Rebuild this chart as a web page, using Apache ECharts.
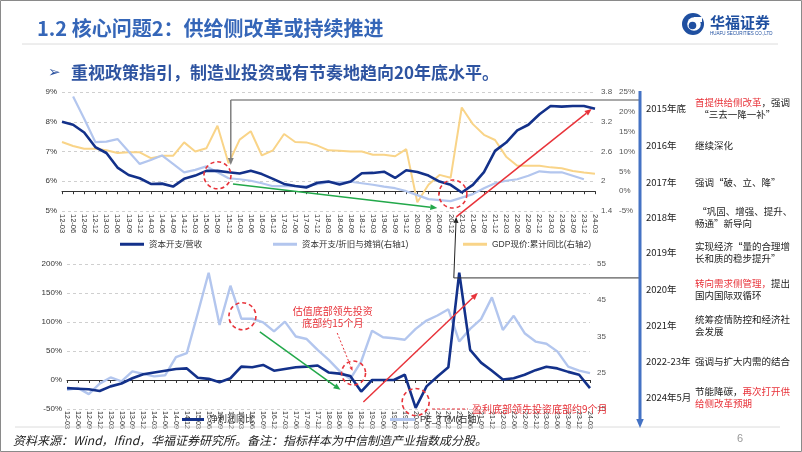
<!DOCTYPE html>
<html><head><meta charset="utf-8">
<script src="https://cdn.jsdelivr.net/npm/echarts@6/dist/echarts.min.js"></script>
<style>html,body{margin:0;padding:0;background:#fff}#c{width:802px;height:452px}</style>
</head><body><div id="c"></div>
<script>
const categories = ['12-03','12-06','12-09','12-12','13-03','13-06','13-09','13-12','14-03','14-06','14-09','14-12','15-03','15-06','15-09','15-12','16-03','16-06','16-09','16-12','17-03','17-06','17-09','17-12','18-03','18-06','18-09','18-12','19-03','19-06','19-09','19-12','20-03','20-06','20-09','20-12','21-03','21-06','21-09','21-12','22-03','22-06','22-09','22-12','23-03','23-06','23-09','23-12','24-03'];
const capexRevenue = [8.0,7.9,7.64,7.15,6.95,6.46,6.21,6.1,5.91,5.92,5.82,6.08,6.19,6.35,6.35,6.3,6.26,6.35,6.24,6.08,5.91,5.84,5.79,5.95,5.99,5.89,5.99,6.27,6.28,6.32,6.11,6.37,6.31,6.19,5.99,5.88,5.62,5.88,6.31,7.02,7.3,7.71,7.9,8.25,8.53,8.51,8.53,8.53,8.44];
const capexDepreciation = [null,3.71,3.26,2.79,2.80,2.85,2.60,2.35,2.43,2.52,2.35,2.18,2.23,2.30,2.18,2.06,2.04,2.01,1.96,1.9,1.9,1.9,1.9,1.94,1.98,1.98,1.99,1.96,1.93,1.89,1.86,1.8,1.72,1.64,1.62,1.6,1.67,1.74,1.86,1.96,2.01,2.04,2.11,2.2,2.18,2.18,2.11,2.04,null];
const gdpNominal = [12.4,11.4,10.7,10.7,10.3,9.6,9.8,9.8,8.3,8.9,8.9,12.3,10.0,10.8,16.5,7.05,13.0,15.1,9.0,10.3,14.4,12.4,12.3,11.5,10.3,10.2,10.0,10.0,9.2,9.2,8.8,10.6,-2.8,1.6,4.1,3.4,21.1,16.9,14.2,12.9,8.7,6.4,6.4,6.4,6.0,5.8,5.1,4.7,4.4];
const profitYoY = [-14,-15,-16,-19,-11,-6,3,10,13,16,19,20,4,2,-4,3,23,22,26,16,19,22,23,25,13,11,7,-20,0,0,0,9,-48,-11,6,22,185,52,30,16,1,3,9,17,23,20,14,9,-14];
const peTTM = [20.3,20.8,19.1,22,23.7,22.6,25.4,24.7,24,24.3,29.3,30.4,41.4,52.6,38.2,49,39.9,39.9,38.9,36.4,39.1,35,34.3,31.3,28.6,25.5,23.3,28.1,36.6,34.8,34.5,34.1,37.1,39.4,40.8,42.5,33.6,37.1,39.8,45.8,36.8,40.7,35.9,33.6,33,30.9,26.7,25.6,24.9];
const timelineYears = ['2015年底','2016年','2017年','2018年','2019年','2020年','2021年','2022-23年','2024年5月'];
const timelineText = [
  ['{r|首提供给侧改革}，强调','  “三去一降一补”'],
  ['继续深化'],
  ['强调“破、立、降”'],
  [' “巩固、增强、提升、','畅通”新导向'],
  ['实现经济“量的合理增','长和质的稳步提升”'],
  ['{r|转向需求侧管理，}提出','国内国际双循环'],
  ['统筹疫情防控和经济社','会发展'],
  ['强调与扩大内需的结合'],
  ['节能降碳，{r|再次打开供}','{r|给侧改革预期}']
];
const timelineY = [108,145,182,217,252,289,325,361,397];

const DARK='#13318a', LIGHT='#b3c6ee', YEL='#f9d488', RED='#e8333a';
const FONT="'Liberation Sans','Noto Sans CJK SC',sans-serif";
const chart = echarts.init(document.getElementById('c'));
const axLbl = {fontSize:8, color:'#333', fontFamily:FONT};
const xCommon = {type:'category', data:categories, boundaryGap:false,
  axisLine:{lineStyle:{color:'#333',width:1}}, axisTick:{length:3,lineStyle:{color:'#333'}},
  axisLabel:{rotate:-90, interval:0, fontSize:7.5, color:'#333', margin:3, fontFamily:FONT}};
const dashSplit = {show:true, lineStyle:{type:[3,3], color:'#cfcfcf'}};
const legBase = {icon:'rect',itemHeight:3,padding:0,itemGap:4,textStyle:{fontSize:8.5,color:'#333'}};

chart.setOption({
  animation:false,
  textStyle:{fontFamily:FONT},
  grid:[{left:62,right:207,top:92,height:119},{left:67,right:212,top:264,height:145}],
  xAxis:[Object.assign({gridIndex:0},xCommon),
         Object.assign({gridIndex:1},xCommon,{axisLine:{onZero:true,lineStyle:{color:'#333'}},
           axisLabel:{rotate:-90, interval:0, fontSize:7, color:'#333', margin:2, fontFamily:FONT}})],
  yAxis:[
    {gridIndex:0,type:'value',min:5,max:9,interval:1,axisLabel:Object.assign({formatter:'{value}%',margin:5},axLbl),splitLine:dashSplit,axisLine:{show:false},axisTick:{show:false}},
    {gridIndex:0,type:'value',position:'right',min:1.4,max:3.8,interval:0.6,axisLabel:Object.assign({formatter:v=>String(+v.toFixed(1)),margin:6},axLbl,{color:'#555'}),splitLine:{show:false},axisLine:{show:false},axisTick:{show:false}},
    {gridIndex:0,type:'value',position:'right',offset:18,min:-5,max:25,interval:5,axisLabel:Object.assign({formatter:'{value}%',margin:6},axLbl,{color:'#555'}),splitLine:{show:false},axisLine:{show:false},axisTick:{show:false}},
    {gridIndex:1,type:'value',min:-50,max:200,interval:50,axisLabel:Object.assign({formatter:'{value}%',margin:5},axLbl),splitLine:dashSplit,axisLine:{show:false},axisTick:{show:false}},
    {gridIndex:1,type:'value',position:'right',min:15,max:55,interval:10,axisLabel:Object.assign({margin:7},axLbl,{color:'#555'}),splitLine:{show:false},axisLine:{show:false},axisTick:{show:false}}
  ],
  legend:[
    Object.assign({data:['资本开支/营收'],left:120,top:240,itemWidth:24},legBase),
    Object.assign({data:['资本开支/折旧与摊销(右轴1)'],left:273,top:240,itemWidth:24},legBase),
    Object.assign({data:['GDP现价:累计同比(右轴2)'],left:463,top:240,itemWidth:24},legBase),
    Object.assign({data:['净利润同比'],left:182,top:415,itemWidth:22},legBase,{textStyle:{fontSize:9,color:'#333'}}),
    Object.assign({data:['PE_TTM(右轴)'],left:390,top:415,itemWidth:25},legBase,{textStyle:{fontSize:9,color:'#333'}})
  ],
  series:[
    {name:'资本开支/折旧与摊销(右轴1)',type:'line',xAxisIndex:0,yAxisIndex:1,data:capexDepreciation,symbol:'none',lineStyle:{color:LIGHT,width:2.2},itemStyle:{color:LIGHT},z:2},
    {name:'GDP现价:累计同比(右轴2)',type:'line',xAxisIndex:0,yAxisIndex:2,data:gdpNominal,symbol:'none',lineStyle:{color:YEL,width:2},itemStyle:{color:YEL},z:1},
    {name:'资本开支/营收',type:'line',xAxisIndex:0,yAxisIndex:0,data:capexRevenue,symbol:'none',lineStyle:{color:DARK,width:2.6},itemStyle:{color:DARK},z:3},
    {name:'PE_TTM(右轴)',type:'line',xAxisIndex:1,yAxisIndex:4,data:peTTM,symbol:'none',lineStyle:{color:LIGHT,width:2.4},itemStyle:{color:LIGHT},z:2},
    {name:'净利润同比',type:'line',xAxisIndex:1,yAxisIndex:3,data:profitYoY,symbol:'none',lineStyle:{color:DARK,width:2.6},itemStyle:{color:DARK},z:3}
  ]
});

function P(xa, ya, fi, v){
  const i0 = Math.min(Math.floor(fi), categories.length-2), f = fi - i0;
  const a = chart.convertToPixel({xAxisIndex:xa, yAxisIndex:ya}, [i0, v]);
  const b = chart.convertToPixel({xAxisIndex:xa, yAxisIndex:ya}, [i0+1, v]);
  return [a[0] + (b[0]-a[0])*f, a[1]];
}
function arrow(p1, p2, color, w, hs, dash){
  const dx=p2[0]-p1[0], dy=p2[1]-p1[1], L=Math.hypot(dx,dy), ux=dx/L, uy=dy/L;
  const bx=p2[0]-ux*hs, by=p2[1]-uy*hs, nx=-uy*hs*0.42, ny=ux*hs*0.42;
  return [
    {type:'line',z:100,shape:{x1:p1[0],y1:p1[1],x2:bx,y2:by},style:{stroke:color,lineWidth:w,lineDash:dash||null}},
    {type:'polygon',z:100,shape:{points:[[p2[0],p2[1]],[bx+nx,by+ny],[bx-nx,by-ny]]},style:{fill:color}}
  ];
}
function dcircle(c, r){ return {type:'circle',z:100,shape:{cx:c[0],cy:c[1],r:r},style:{fill:'none',stroke:RED,lineWidth:1.6,lineDash:[4,3]}}; }
function txt(x,y,t,font,fill,align){ return {type:'text',z:100,x:x,y:y,style:{text:t,font:font,fill:fill,align:align||'left',verticalAlign:'middle',textAlign:align||'left',textVerticalAlign:'middle'}}; }
function hline(x1,y1,x2,y2,color,w,dash){ return {type:'line',z:99,shape:{x1:x1,y1:y1,x2:x2,y2:y2},style:{stroke:color,lineWidth:w,lineDash:dash||null}}; }

const TLX = 640;
const g = [];
g.push({type:'rect',z:0,shape:{x:0.5,y:0.5,width:801,height:451},style:{fill:'none',stroke:'#8a8a8a',lineWidth:1}});
g.push(txt(37,28,'1.2 核心问题2：供给侧改革或持续推进',"bold 20px 'Noto Sans CJK SC'",'#3566b8'));
g.push(hline(22,44,778,44,'#dcdcdc',1));
g.push(txt(48,73,'➢',"15px 'DejaVu Sans'",'#2e54a1'));
g.push(txt(71,73,'重视政策指引，制造业投资或有节奏地趋向20年底水平。',"bold 17px 'Noto Sans CJK SC'",'#2e54a1'));
g.push({type:'circle',z:10,shape:{cx:693,cy:24,r:11},style:{fill:'#1f4fa0'}});
g.push({type:'circle',z:11,shape:{cx:694,cy:24,r:6.8},style:{fill:'#fff'}});
g.push({type:'circle',z:12,shape:{cx:692.5,cy:25.5,r:3.8},style:{fill:'#1f4fa0'}});
g.push({type:'rect',z:12,shape:{x:694,y:17,width:8,height:5},style:{fill:'#fff'}});
g.push(txt(710,22,'华福证券',"bold 15px 'Noto Sans CJK SC'",'#1f4fa0'));
g.push(txt(710,34,'HUAFU SECURITIES CO.,LTD',"4.5px 'Liberation Sans'",'#1f4fa0'));
g.push(hline(15,427,780,427,'#dcdcdc',1));
g.push(txt(13,440,'资料来源：Wind，Ifind，华福证券研究所。备注：指标样本为中信制造产业指数成分股。',"italic 12px 'Noto Sans CJK SC'",'#222'));
g.push(txt(737,439,'6',"11px 'Liberation Sans'",'#999'));
g.push(...arrow([TLX,91],[TLX,428],'#4472c4',3,9));
timelineYears.forEach((yr,k)=>{
  const y = timelineY[k];
  g.push(txt(646,y,yr,"9.5px 'Noto Sans CJK SC'",'#222'));
  const lines = timelineText[k];
  const off = lines.length===2 ? [-6,6] : [0];
  lines.forEach((ln,j)=>{
    g.push({type:'text',z:100,x:695,y:y+off[j],style:{text:ln,font:"9.5px 'Noto Sans CJK SC'",fill:'#222',align:'left',verticalAlign:'middle',rich:{r:{fill:RED,font:"9.5px 'Noto Sans CJK SC'"}}}});
  });
});
g.push(dcircle(P(0,0,14,6.2),13.5));
const gTop = P(0,0,15.2,8.73), gTip = P(0,2,15.2,6.6);
g.push(hline(gTop[0],gTop[1],TLX,gTop[1],'#8c8c8c',1.5));
g.push(...arrow(gTop,gTip,'#7f7f7f',1.5,7));
g.push(...arrow(P(0,0,15.4,5.91),P(0,0,33.8,5.1),'#22a84a',1.5,7));
g.push(dcircle(P(0,0,35.2,5.57),14));
const bTip = P(0,0,35.5,4.8), bBot = P(1,3,35.5,176);
g.push(hline(bBot[0],bBot[1],TLX,bBot[1],'#333',1));
g.push(...arrow(bBot,bTip,'#222',1,6));
g.push(...arrow(P(0,0,35.5,4.8),P(0,0,47.7,8.43),RED,1.5,7));
g.push(dcircle(P(1,3,16.1,110),13.5));
g.push(...arrow(P(1,3,17.7,83),P(1,3,25.1,-17),'#22a84a',1.5,7));
const tp = P(1,3,24.4,109);
g.push(txt(tp[0],tp[1]-6,'估值底部领先投资',"10px 'Noto Sans CJK SC'",RED,'center'));
g.push(txt(tp[0],tp[1]+6,'底部约15个月',"10px 'Noto Sans CJK SC'",RED,'center'));
g.push(...arrow(P(1,3,24.8,81),P(1,3,26.2,16),RED,1,4,[2,2]));
g.push(dcircle(P(1,3,26.3,12),12));
g.push(...arrow(P(1,3,27.2,-38),P(1,3,37.7,150),RED,1.5,7));
g.push(dcircle(P(1,3,32,-38),13.5));
const dl1 = P(1,3,33.5,-50), dl2 = P(1,3,36.8,-50);
g.push(hline(dl1[0],dl1[1],dl2[0],dl2[1],RED,1,[3,2]));
g.push(txt(dl2[0]+4,dl1[1],'盈利底部领先投资底部约9个月',"10px 'Noto Sans CJK SC'",RED));
chart.setOption({graphic:{elements:g}});
</script></body></html>
